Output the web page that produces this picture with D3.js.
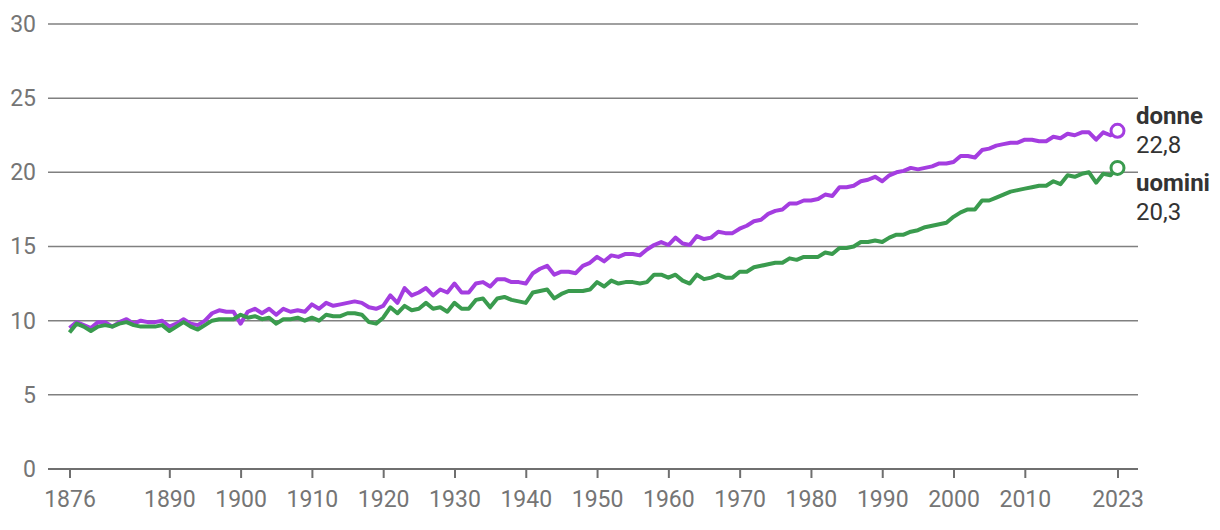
<!DOCTYPE html>
<html><head><meta charset="utf-8">
<script src="https://cdn.jsdelivr.net/npm/d3@7"></script>
<style>
body{margin:0;background:#fff;}
text{font-family:Roboto,"Noto Sans",sans-serif;}
</style></head><body>
<svg id="c" width="1220" height="530"></svg>
<script>
const firstYear = 1876;
const lastYear = 2023;
const donne = [
9.5,9.9,9.7,9.5,9.9,9.9,9.6,9.9,10.1,9.8,
10.0,9.9,9.9,10.0,9.6,9.8,10.1,9.8,9.7,10.0,
10.5,10.7,10.6,10.6,9.8,10.6,10.8,10.5,10.8,10.4,
10.8,10.6,10.7,10.6,11.1,10.8,11.2,11.0,11.1,11.2,
11.3,11.2,10.9,10.8,11.0,11.7,11.2,12.2,11.7,11.9,
12.2,11.7,12.1,11.9,12.5,11.9,11.9,12.5,12.6,12.3,
12.8,12.8,12.6,12.6,12.5,13.2,13.5,13.7,13.1,13.3,
13.3,13.2,13.7,13.9,14.3,14.0,14.4,14.3,14.5,14.5,
14.4,14.8,15.1,15.3,15.1,15.6,15.2,15.1,15.7,15.5,
15.6,16.0,15.9,15.9,16.2,16.4,16.7,16.8,17.2,17.4,
17.5,17.9,17.9,18.1,18.1,18.2,18.5,18.4,19.0,19.0,
19.1,19.4,19.5,19.7,19.4,19.8,20.0,20.1,20.3,20.2,
20.3,20.4,20.6,20.6,20.7,21.1,21.1,21.0,21.5,21.6,
21.8,21.9,22.0,22.0,22.2,22.2,22.1,22.1,22.4,22.3,
22.6,22.5,22.7,22.7,22.2,22.7,22.5,22.8
];
const uomini = [
9.2,9.8,9.6,9.3,9.6,9.7,9.6,9.8,9.9,9.7,
9.6,9.6,9.6,9.7,9.3,9.6,9.9,9.6,9.4,9.7,
10.0,10.1,10.1,10.1,10.4,10.2,10.3,10.1,10.2,9.8,
10.1,10.1,10.2,10.0,10.2,10.0,10.4,10.3,10.3,10.5,
10.5,10.4,9.9,9.8,10.2,10.9,10.5,11.0,10.7,10.8,
11.2,10.8,10.9,10.6,11.2,10.8,10.8,11.4,11.5,10.9,
11.5,11.6,11.4,11.3,11.2,11.9,12.0,12.1,11.5,11.8,
12.0,12.0,12.0,12.1,12.6,12.3,12.7,12.5,12.6,12.6,
12.5,12.6,13.1,13.1,12.9,13.1,12.7,12.5,13.1,12.8,
12.9,13.1,12.9,12.9,13.3,13.3,13.6,13.7,13.8,13.9,
13.9,14.2,14.1,14.3,14.3,14.3,14.6,14.5,14.9,14.9,
15.0,15.3,15.3,15.4,15.3,15.6,15.8,15.8,16.0,16.1,
16.3,16.4,16.5,16.6,17.0,17.3,17.5,17.5,18.1,18.1,
18.3,18.5,18.7,18.8,18.9,19.0,19.1,19.1,19.4,19.2,
19.8,19.7,19.9,20.0,19.3,19.9,19.8,20.3
];
const xTicks = [1876,1890,1900,1910,1920,1930,1940,1950,1960,1970,1980,1990,2000,2010,2023];
const yTicks = [0,5,10,15,20,25,30];
const seriesNames = ["donne","uomini"];
const seriesLabels = ["22,8","20,3"];
const colors = ["#a43de0","#3a9b4e"];

const svg = d3.select("#c");
const x = d3.scaleLinear().domain([firstYear,lastYear]).range([69.5,1117.5]);
const y = d3.scaleLinear().domain([0,30]).range([469,24]);

const yAxis = d3.axisLeft(y).tickValues(yTicks).tickSize(0).tickPadding(12).tickFormat(d3.format("d"));
const gy = svg.append("g").attr("transform","translate(48,0)").call(yAxis);
gy.select(".domain").remove();
gy.selectAll("text").attr("fill","#757575").style("font-size","23px").attr("text-anchor","end");
svg.append("g").selectAll("line").data(yTicks).join("line")
  .attr("x1",48).attr("x2",1138).attr("y1",d=>y(d)).attr("y2",d=>y(d))
  .attr("stroke",d=>d===0?"#6f6f6f":"#808080").attr("stroke-width",d=>d===0?2:1.5);

const xAxis = d3.axisBottom(x).tickValues(xTicks).tickSize(9).tickPadding(13).tickFormat(d3.format("d"));
const gx = svg.append("g").attr("transform",`translate(0,${y(0)})`).call(xAxis);
gx.select(".domain").remove();
gx.selectAll("line").attr("stroke","#6f6f6f").attr("stroke-width",2);
gx.selectAll("text").attr("fill","#757575").style("font-size","23px");

const years = d3.range(firstYear,lastYear+1);
const line = d3.line().x((d,i)=>x(years[i])).y(d=>y(d));
[donne,uomini].forEach((s,k)=>{
  svg.append("path").datum(s).attr("d",line).attr("fill","none")
    .attr("stroke",colors[k]).attr("stroke-width",4).attr("stroke-linejoin","round");
  svg.append("circle").attr("cx",x(lastYear)).attr("cy",y(s[s.length-1])).attr("r",6.5)
    .attr("fill","#fff").attr("stroke",colors[k]).attr("stroke-width",3);
});
const labelY = [[124,153],[191,220]];
seriesNames.forEach((n,k)=>{
  svg.append("text").attr("x",1136).attr("y",labelY[k][0]).text(n)
    .attr("fill","#333").style("font-size","24px").style("font-weight","bold");
  svg.append("text").attr("x",1136).attr("y",labelY[k][1]).text(seriesLabels[k])
    .attr("fill","#333").style("font-size","24px");
});
</script>
</body></html>
